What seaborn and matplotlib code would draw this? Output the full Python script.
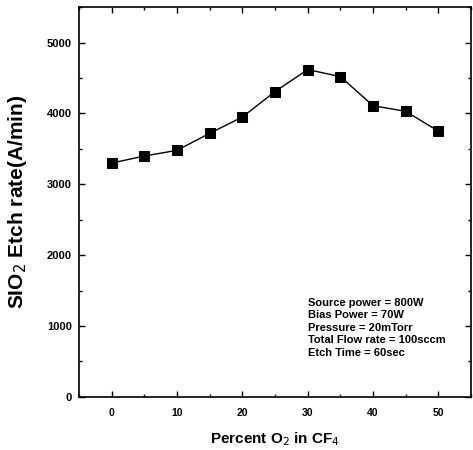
import numpy as np
import matplotlib
matplotlib.use("Agg")
import matplotlib.pyplot as plt
import seaborn as sns
from matplotlib.ticker import MultipleLocator

# data
o2_percent = [0, 5, 10, 15, 20, 25, 30, 35, 40, 45, 50]
etch_rate = [3300, 3400, 3480, 3720, 3950, 4310, 4620, 4520, 4110, 4030, 3750]
conditions = ["Source power = 800W",
              "Bias Power = 70W",
              "Pressure = 20mTorr",
              "Total Flow rate = 100sccm",
              "Etch Time = 60sec"]

sns.set_style("ticks")
plt.rcParams['font.family'] = ['Liberation Sans', 'DejaVu Sans']
plt.rcParams['text.color'] = 'black'
plt.rcParams['axes.labelcolor'] = 'black'
plt.rcParams['xtick.color'] = 'black'
plt.rcParams['ytick.color'] = 'black'
plt.rcParams['axes.edgecolor'] = 'black'

fig, ax = plt.subplots(figsize=(4.73, 4.5), dpi=100)
fig.subplots_adjust(left=0.167, right=0.996, top=0.984, bottom=0.118)

sns.lineplot(x=o2_percent, y=etch_rate, marker='s', color='black',
             markersize=7.5, markeredgecolor='black', linewidth=1, ax=ax)

ax.set_xlim(-5, 55)
ax.set_ylim(0, 5500)
ax.xaxis.set_major_locator(MultipleLocator(10))
ax.xaxis.set_minor_locator(MultipleLocator(5))
ax.yaxis.set_major_locator(MultipleLocator(1000))
ax.yaxis.set_minor_locator(MultipleLocator(500))
ax.tick_params(which='both', direction='in', top=True, right=True, width=1)
ax.tick_params(axis='x', labelsize=7.5, pad=8)
ax.tick_params(axis='y', labelsize=8, pad=5)
ax.tick_params(which='major', length=4)
ax.tick_params(which='minor', length=2.5)
for lab in ax.get_xticklabels() + ax.get_yticklabels():
    lab.set_fontweight('bold')
for sp in ax.spines.values():
    sp.set_linewidth(1.2)

ax.set_xlabel("Percent O$_2$ in CF$_4$", fontsize=11, fontweight='bold', labelpad=9)
ax.set_ylabel("SIO$_2$ Etch rate(A/min)", fontsize=15, fontweight='bold', labelpad=13)

ax.text(0.584, 0.254, "\n".join(conditions), transform=ax.transAxes,
        fontsize=8, fontweight='bold', va='top', ha='left', linespacing=1.3)

fig.savefig("out.png", dpi=100)
